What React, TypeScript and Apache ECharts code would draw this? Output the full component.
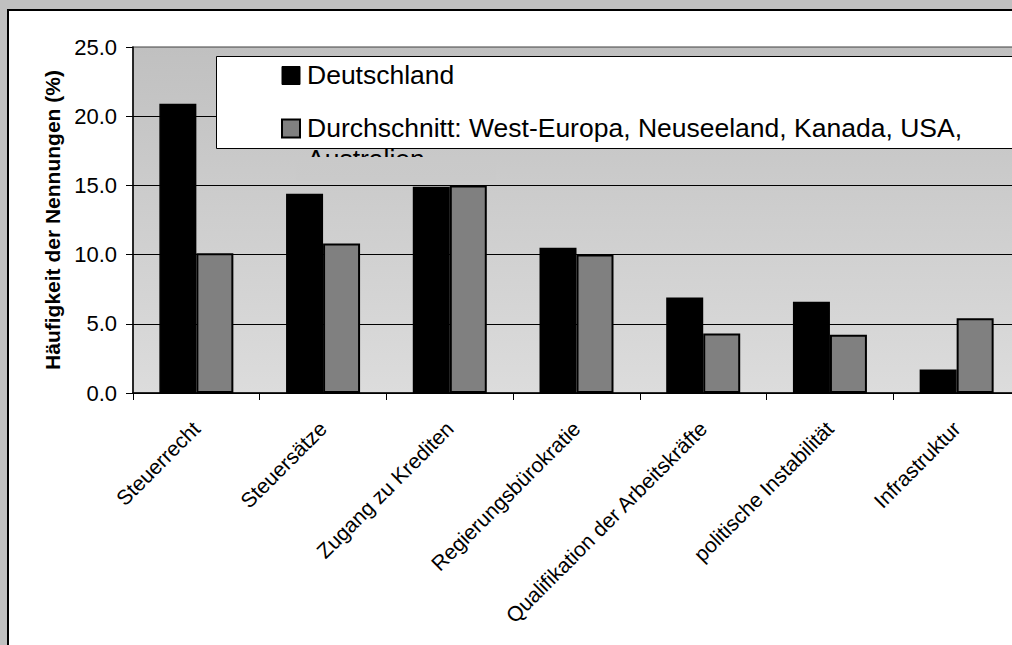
import React, { useEffect, useRef } from "react";
import * as echarts from "echarts";

const categories = [
  "Steuerrecht",
  "Steuersätze",
  "Zugang zu Krediten",
  "Regierungsbürokratie",
  "Qualifikation der Arbeitskräfte",
  "politische Instabilität",
  "Infrastruktur",
];
const seriesNames = [
  "Deutschland",
  "Durchschnitt: West-Europa, Neuseeland, Kanada, USA, Australien",
];
const deutschland = [20.9, 14.4, 14.9, 10.5, 6.9, 6.6, 1.7];
const durchschnitt = [10.1, 10.8, 15.0, 10.0, 4.3, 4.2, 5.4];
const yAxisTitle = "Häufigkeit der Nennungen (%)";
const yMin = 0;
const yMax = 25;
const yInterval = 5;

const FONT = "'Liberation Sans', Arial, sans-serif";

export default function App() {
  const ref = useRef<HTMLDivElement>(null);

  useEffect(() => {
    if (!ref.current) return;
    document.body.style.margin = "0";
    document.body.style.overflow = "hidden";
    const chart = echarts.init(ref.current, undefined, { renderer: "svg" });
    const name2 = seriesNames[1];
    const cut = name2.lastIndexOf(", ");
    const line2a = name2.slice(0, cut + 1);
    const line2b = name2.slice(cut + 2);

    chart.setOption({
      animation: false,
      backgroundColor: "transparent",
      textStyle: { fontFamily: FONT },
      grid: {
        left: 133,
        top: 47,
        width: 887,
        height: 346,
        containLabel: false,
        outerBoundsMode: "none",
        show: true,
        backgroundColor: new echarts.graphic.LinearGradient(0, 0, 0, 1, [
          { offset: 0, color: "#c0c0c0" },
          { offset: 1, color: "#dcdcdc" },
        ]),
        borderColor: "#808080",
        borderWidth: 1.5,
      },
      xAxis: {
        type: "category",
        data: categories,
        axisLine: { lineStyle: { color: "#000", width: 1.5 } },
        axisTick: { show: true, length: 7, lineStyle: { color: "#000" } },
        axisLabel: {
          rotate: 45,
          margin: 32,
          fontSize: 21,
          color: "#000",
          fontFamily: FONT,
          interval: 0,
        },
      },
      yAxis: {
        type: "value",
        min: yMin,
        max: yMax,
        interval: yInterval,
        name: yAxisTitle,
        nameLocation: "middle",
        nameRotate: 90,
        nameGap: 70,
        nameTextStyle: {
          fontSize: 21,
          fontWeight: "bold",
          color: "#000",
          fontFamily: FONT,
        },
        axisLine: { show: true, lineStyle: { color: "#000", width: 1.5 } },
        axisTick: { show: true, length: 7, lineStyle: { color: "#000" } },
        axisLabel: {
          margin: 16,
          fontSize: 22,
          color: "#000",
          fontFamily: FONT,
          formatter: (v: number) => v.toFixed(1),
        },
        splitLine: {
          show: true,
          lineStyle: {
            color: ["#000", "#000", "#000", "#000", "#000", "#808080"],
            width: 1,
          },
        },
      },
      series: [
        {
          name: seriesNames[0],
          type: "bar",
          data: deutschland,
          barWidth: 37,
          barGap: "0%",
          itemStyle: { color: "#000", borderColor: "#000", borderWidth: 1.5 },
        },
        {
          name: seriesNames[1],
          type: "bar",
          data: durchschnitt,
          barWidth: 37,
          barGap: "0%",
          itemStyle: { color: "#808080", borderColor: "#000", borderWidth: 2 },
        },
      ],
      graphic: [
        {
          type: "rect",
          z: 50,
          shape: { x: 216.5, y: 56.5, width: 900, height: 92 },
          style: { fill: "#fff", stroke: "#000", lineWidth: 1 },
        },
        {
          type: "rect",
          z: 51,
          shape: { x: 282, y: 66.5, width: 18, height: 18 },
          style: { fill: "#000", stroke: "#000", lineWidth: 1 },
        },
        {
          type: "text",
          z: 51,
          x: 307,
          y: 75,
          style: {
            text: seriesNames[0],
            fontSize: 26.5,
            fontFamily: FONT,
            fill: "#000",
            verticalAlign: "middle",
          },
        },
        {
          type: "rect",
          z: 51,
          shape: { x: 282, y: 119.5, width: 18, height: 18 },
          style: { fill: "#808080", stroke: "#000", lineWidth: 2 },
        },
        {
          type: "text",
          z: 51,
          x: 307,
          y: 128,
          style: {
            text: line2a,
            fontSize: 26.5,
            fontFamily: FONT,
            fill: "#000",
            verticalAlign: "middle",
          },
        },
        {
          type: "text",
          z: 51,
          x: 307,
          y: 159,
          style: {
            text: line2b,
            fontSize: 26.5,
            fontFamily: FONT,
            fill: "#000",
            verticalAlign: "middle",
          },
        },
        {
          type: "rect",
          z: 52,
          shape: { x: 296, y: 157, width: 200, height: 24 },
          style: {
            fill: new echarts.graphic.LinearGradient(0, 0, 0, 1, [
              { offset: 0, color: "#c9c9c9" },
              { offset: 1, color: "#cacaca" },
            ]),
          },
        },
      ],
    });
    return () => chart.dispose();
  }, []);

  return (
    <div
      style={{
        position: "fixed",
        left: 0,
        top: 0,
        width: 1100,
        height: 700,
        overflow: "hidden",
        background: "#c0c0c0",
      }}
    >
      <div
        style={{
          position: "absolute",
          left: 6.5,
          top: 9,
          width: 1200,
          height: 800,
          background: "#fff",
          borderLeft: "2px solid #000",
          borderTop: "2px solid #000",
        }}
      />
      <div
        ref={ref}
        style={{ position: "absolute", left: 0, top: 0, width: 1100, height: 700 }}
      />
    </div>
  );
}
